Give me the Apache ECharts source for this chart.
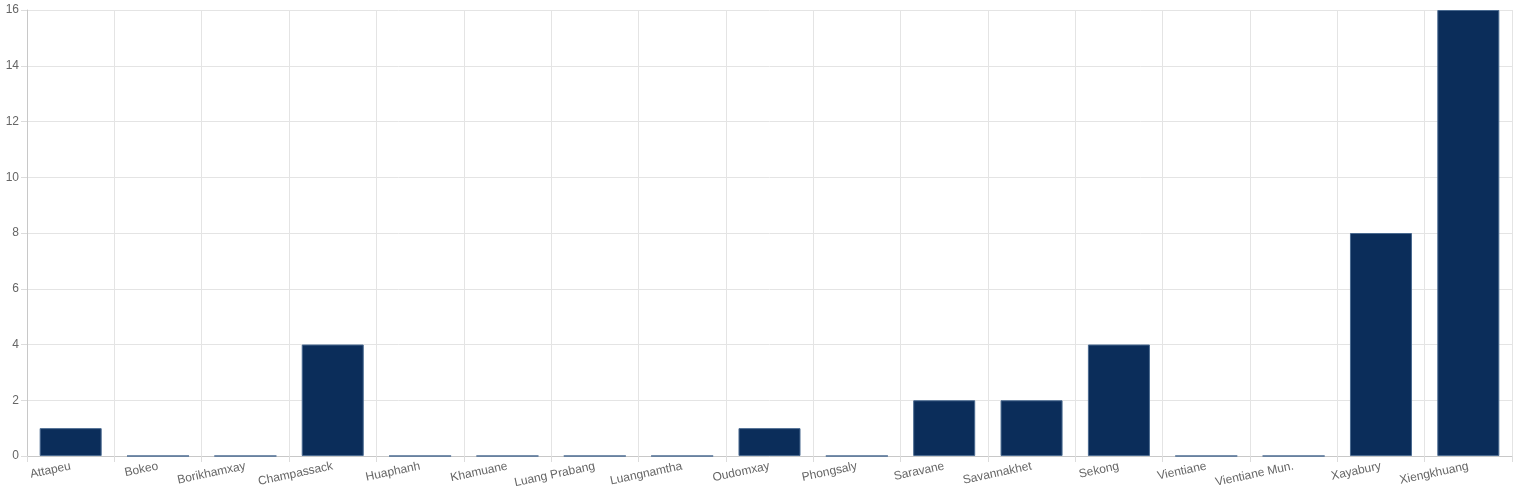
<!DOCTYPE html>
<html><head><meta charset="utf-8">
<script src="https://cdn.jsdelivr.net/npm/echarts@6/dist/echarts.min.js"></script>
<style>html,body{margin:0;padding:0;background:#fff}#c{width:1513px;height:504px}</style>
</head><body><div id="c"></div>
<script>
var provinces = ['Attapeu','Bokeo','Borikhamxay','Champassack','Huaphanh','Khamuane','Luang Prabang','Luangnamtha','Oudomxay','Phongsaly','Saravane','Savannakhet','Sekong','Vientiane','Vientiane Mun.','Xayabury','Xiengkhuang'];
var counts = [1,0,0,4,0,0,0,0,1,0,2,2,4,0,0,8,16];

var chart = echarts.init(document.getElementById('c'));
chart.setOption({
    animation: false,
    grid: {left: 27, right: 1, top: 10, bottom: 48, containLabel: false},
    xAxis: {
        type: 'category',
        data: provinces,
        axisLine: {lineStyle: {color: '#c8c8c8'}},
        axisTick: {show: true, length: 6, lineStyle: {color: '#dcdcdc'}},
        splitLine: {show: true, lineStyle: {color: '#e4e4e4'}},
        axisLabel: {rotate: 12, color: '#666', fontSize: 12, fontFamily: 'Helvetica, Arial, sans-serif', margin: 10}
    },
    yAxis: {
        type: 'value', min: 0, max: 16, interval: 2,
        axisLine: {show: true, lineStyle: {color: '#c8c8c8'}},
        axisTick: {show: true, length: 6, lineStyle: {color: '#dcdcdc'}},
        splitLine: {lineStyle: {color: '#e4e4e4'}},
        axisLabel: {color: '#666', fontSize: 12, fontFamily: 'Helvetica, Arial, sans-serif', margin: 8}
    },
    series: [{
        type: 'bar',
        data: counts,
        barCategoryGap: '29%',
        itemStyle: {color: '#0b2d5a', borderColor: '#4a6a90', borderWidth: 1}
    }]
});
</script></body></html>
